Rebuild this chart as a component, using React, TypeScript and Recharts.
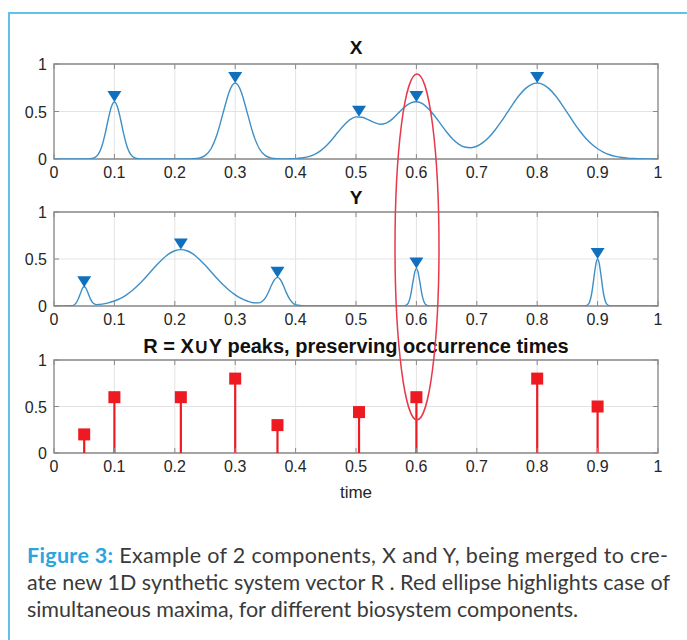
import React from 'react';
import {
  ComposedChart,
  Line,
  Scatter,
  XAxis,
  YAxis,
  CartesianGrid,
  ReferenceArea,
  ErrorBar,
} from 'recharts';

// axis ticks shared by all three panels
const TIME_TICKS = [0, 0.1, 0.2, 0.3, 0.4, 0.5, 0.6, 0.7, 0.8, 0.9, 1];
const VALUE_TICKS = [0, 0.5, 1];

// component X, sampled along time
const X_TIME = [
  0, 0.05, 0.06, 0.07, 0.08, 0.085, 0.09, 0.095, 0.1, 0.105, 0.11, 0.115, 0.12, 0.13, 0.14, 0.15,
  0.22, 0.23, 0.24, 0.25, 0.26, 0.27, 0.28, 0.29, 0.295, 0.3, 0.305, 0.31, 0.32, 0.33, 0.34, 0.35,
  0.36, 0.37, 0.38, 0.39, 0.4, 0.41, 0.42, 0.43, 0.44, 0.45, 0.46, 0.47, 0.48, 0.49, 0.5, 0.51,
  0.52, 0.53, 0.54, 0.55, 0.56, 0.57, 0.58, 0.59, 0.6, 0.61, 0.62, 0.63, 0.64, 0.65, 0.66, 0.67,
  0.68, 0.69, 0.7, 0.71, 0.72, 0.73, 0.74, 0.75, 0.76, 0.77, 0.78, 0.79, 0.8, 0.81, 0.82, 0.83,
  0.84, 0.85, 0.86, 0.87, 0.88, 0.89, 0.9, 0.91, 0.92, 0.93, 0.94, 0.95, 0.96, 0.97, 0.98, 1,
];
const X_VALUE = [
  0, 0, 0.002, 0.026, 0.15, 0.275, 0.424, 0.55, 0.6, 0.55, 0.424, 0.275, 0.15, 0.026, 0.002, 0,
  0, 0.002, 0.009, 0.035, 0.108, 0.26, 0.485, 0.706, 0.775, 0.8, 0.775, 0.706, 0.485, 0.26, 0.108, 0.035,
  0.009, 0.002, 0, 0.002, 0.004, 0.01, 0.022, 0.044, 0.08, 0.133, 0.202, 0.281, 0.356, 0.415, 0.443, 0.44,
  0.415, 0.385, 0.366, 0.378, 0.42, 0.483, 0.545, 0.588, 0.602, 0.583, 0.53, 0.455, 0.369, 0.284, 0.211, 0.157,
  0.126, 0.119, 0.134, 0.172, 0.229, 0.303, 0.39, 0.485, 0.581, 0.668, 0.738, 0.784, 0.8, 0.784, 0.738, 0.668,
  0.581, 0.485, 0.389, 0.3, 0.222, 0.158, 0.108, 0.071, 0.045, 0.027, 0.016, 0.009, 0.005, 0.002, 0.001, 0,
];
const X_PEAK_TIME = [0.1, 0.3, 0.505, 0.6, 0.8];
const X_PEAK_VALUE = [0.6, 0.8, 0.445, 0.6, 0.8];

// component Y
const Y_TIME = [
  0, 0.03, 0.035, 0.04, 0.045, 0.0475, 0.05, 0.0525, 0.055, 0.06, 0.065, 0.07, 0.08, 0.09, 0.1, 0.11,
  0.12, 0.13, 0.14, 0.15, 0.16, 0.17, 0.18, 0.19, 0.2, 0.21, 0.22, 0.23, 0.24, 0.25, 0.26, 0.27,
  0.28, 0.29, 0.3, 0.31, 0.32, 0.33, 0.34, 0.345, 0.35, 0.355, 0.36, 0.365, 0.37, 0.375, 0.38, 0.385,
  0.39, 0.395, 0.4, 0.41, 0.42, 0.575, 0.58, 0.585, 0.59, 0.595, 0.5975, 0.6, 0.6025, 0.605, 0.61, 0.615,
  0.62, 0.625, 0.875, 0.88, 0.885, 0.89, 0.895, 0.8975, 0.9, 0.9025, 0.905, 0.91, 0.915, 0.92, 0.925, 1,
];
const Y_VALUE = [
  0, 0.003, 0.02, 0.072, 0.155, 0.192, 0.204, 0.193, 0.16, 0.079, 0.029, 0.015, 0.02, 0.034, 0.053, 0.081,
  0.119, 0.167, 0.225, 0.292, 0.364, 0.436, 0.501, 0.554, 0.588, 0.6, 0.588, 0.554, 0.501, 0.436, 0.364, 0.292,
  0.225, 0.167, 0.119, 0.081, 0.053, 0.035, 0.033, 0.05, 0.087, 0.147, 0.22, 0.281, 0.305, 0.279, 0.215, 0.137,
  0.075, 0.034, 0.013, 0.004, 0, 0, 0.002, 0.018, 0.1, 0.283, 0.367, 0.4, 0.367, 0.283, 0.1, 0.018,
  0.002, 0, 0, 0.002, 0.022, 0.125, 0.354, 0.458, 0.5, 0.458, 0.354, 0.125, 0.022, 0.002, 0, 0,
];
const Y_PEAK_TIME = [0.05, 0.21, 0.37, 0.6, 0.9];
const Y_PEAK_VALUE = [0.2, 0.6, 0.3, 0.4, 0.5];

// merged peaks R
const R_TIME = [0.05, 0.1, 0.21, 0.3, 0.37, 0.505, 0.6, 0.8, 0.9];
const R_VALUE = [0.2, 0.6, 0.6, 0.8, 0.3, 0.44, 0.6, 0.8, 0.5];

const zip = (ts: number[], vs: number[]) => ts.map((t, i) => ({ t, v: vs[i] }));

const xCurve = zip(X_TIME, X_VALUE);
const xPeaks = zip(X_PEAK_TIME, X_PEAK_VALUE);
const yCurve = zip(Y_TIME, Y_VALUE);
const yPeaks = zip(Y_PEAK_TIME, Y_PEAK_VALUE);
const rStems = zip(R_TIME, R_VALUE).map((d) => ({ ...d, stem: [d.v, 0] }));

const W = 687;
const PLOT_LEFT = 54;
const PLOT_RIGHT = 658;
const FONT = '"Liberation Sans", Arial, sans-serif';
const INK = '#262626';
const BOX = '#8a8a8a';
const LINE_BLUE = '#3f8fc7';
const MARK_BLUE = '#1170bd';
const RED = '#ee1a22';

const XTick = (p: any) => {
  const { x, y, payload, h } = p;
  return (
    <g>
      <line x1={x} x2={x} y1={y} y2={y - 5} stroke={BOX} />
      <line x1={x} x2={x} y1={y - h} y2={y - h + 5} stroke={BOX} />
      <text x={x} y={y + 19} textAnchor='middle' fontSize={16} fill={INK} fontFamily={FONT}>
        {payload.value}
      </text>
    </g>
  );
};

const YTick = (p: any) => {
  const { x, y, payload, w } = p;
  return (
    <g>
      <line x1={x} x2={x + 5} y1={y} y2={y} stroke={BOX} />
      <line x1={x + w - 5} x2={x + w} y1={y} y2={y} stroke={BOX} />
      <text x={x - 7} y={y + 6} textAnchor='end' fontSize={16} fill={INK} fontFamily={FONT}>
        {payload.value}
      </text>
    </g>
  );
};

const Triangle = (p: any) => {
  const { cx, cy } = p;
  return (
    <polygon
      points={`${cx - 7},${cy - 11} ${cx + 7},${cy - 11} ${cx},${cy}`}
      fill={MARK_BLUE}
    />
  );
};

const Square = (p: any) => {
  const { cx, cy } = p;
  return <rect x={cx - 6} y={cy - 6} width={12} height={12} fill={RED} />;
};

type PanelProps = {
  plotTop: number;
  plotH: number;
  children: React.ReactNode;
};

const Panel = ({ plotTop, plotH, children }: PanelProps) => {
  const mt = 10;
  const xh = 40;
  return (
    <div style={{ position: 'absolute', left: 0, top: plotTop - mt }}>
      <ComposedChart
        width={W}
        height={mt + plotH + xh}
        margin={{ top: mt, right: W - PLOT_RIGHT, bottom: 0, left: 0 }}
      >
        <CartesianGrid stroke='#e3e3e3' />
        <XAxis
          dataKey='t'
          type='number'
          domain={[0, 1]}
          ticks={TIME_TICKS}
          interval={0}
          height={xh}
          axisLine={false}
          tickLine={false}
          tickSize={0}
          tickMargin={0}
          allowDataOverflow
          tick={(p: any) => <XTick {...p} h={plotH} />}
        />
        <YAxis
          type='number'
          domain={[0, 1]}
          ticks={VALUE_TICKS}
          interval={0}
          width={PLOT_LEFT}
          axisLine={false}
          tickLine={false}
          tickSize={0}
          tickMargin={0}
          allowDataOverflow
          tick={(p: any) => <YTick {...p} w={PLOT_RIGHT - PLOT_LEFT} />}
        />
        <ReferenceArea x1={0} x2={1} y1={0} y2={1} fillOpacity={0} stroke={BOX} strokeWidth={1.3} />
        {children}
      </ComposedChart>
    </div>
  );
};

const Title = ({ y, text, size = 20 }: { y: number; text: string; size?: number }) => (
  <div
    style={{
      position: 'absolute',
      left: PLOT_LEFT,
      width: PLOT_RIGHT - PLOT_LEFT,
      top: y - 12,
      height: 24,
      lineHeight: '24px',
      textAlign: 'center',
      fontFamily: FONT,
      fontWeight: 'bold',
      fontSize: size,
      color: '#111',
    }}
  >
    {text}
  </div>
);

const App = () => {
  return (
    <div
      style={{
        position: 'absolute',
        left: 0,
        top: 0,
        width: W,
        height: 640,
        overflow: 'hidden',
        background: '#fff',
      }}
    >
      <div
        style={{
          position: 'absolute',
          left: 8,
          top: 12,
          width: 760,
          height: 760,
          border: '2px solid #62c1ea',
        }}
      />

      <Title y={48} text='X' size={19} />
      <Panel plotTop={64} plotH={95}>
        <Line data={xCurve} dataKey='v' type='monotone' stroke={LINE_BLUE} strokeWidth={1.4} dot={false} isAnimationActive={false} />
        <Scatter data={xPeaks} dataKey='v' shape={Triangle} isAnimationActive={false} />
      </Panel>

      <Title y={198} text='Y' size={19} />
      <Panel plotTop={212} plotH={94}>
        <Line data={yCurve} dataKey='v' type='monotone' stroke={LINE_BLUE} strokeWidth={1.4} dot={false} isAnimationActive={false} />
        <Scatter data={yPeaks} dataKey='v' shape={Triangle} isAnimationActive={false} />
      </Panel>

      <Title y={346} text='R = X∪Y peaks, preserving occurrence times' />
      <Panel plotTop={360} plotH={93}>
        <Scatter data={rStems} dataKey='v' shape={Square} isAnimationActive={false}>
          <ErrorBar dataKey='stem' direction='y' width={0} stroke={RED} strokeWidth={2.2} />
        </Scatter>
      </Panel>

      <div
        style={{
          position: 'absolute',
          left: PLOT_LEFT,
          width: PLOT_RIGHT - PLOT_LEFT,
          top: 482,
          lineHeight: '22px',
          textAlign: 'center',
          fontFamily: FONT,
          fontSize: 17,
          color: INK,
        }}
      >
        time
      </div>

      <svg
        width={W}
        height={640}
        style={{ position: 'absolute', left: 0, top: 0, pointerEvents: 'none' }}
      >
        <ellipse cx={417} cy={247} rx={22} ry={173} fill='none' stroke='#e8384a' strokeWidth={1.5} />
        <g fontFamily='Lato, "Open Sans", sans-serif' fontSize={21.5} fill='#3a3a3a'>
          <text x={27} y={563} textLength={641} lengthAdjust='spacing'>
            <tspan fill='#2aa5de' fontWeight='bold'>Figure 3:</tspan>
            <tspan> Example of 2 components, X and Y, being merged to cre-</tspan>
          </text>
          <text x={27} y={590} textLength={643} lengthAdjust='spacing'>
            ate new 1D synthetic system vector R . Red ellipse highlights case of
          </text>
          <text x={27} y={617} textLength={551} lengthAdjust='spacing'>
            simultaneous maxima, for different biosystem components.
          </text>
        </g>
      </svg>
    </div>
  );
};

export default App;
